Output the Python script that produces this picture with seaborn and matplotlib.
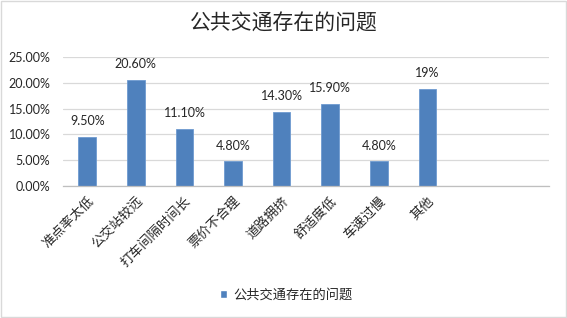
import pandas as pd
import matplotlib.pyplot as plt
import seaborn as sns
from matplotlib.patches import Patch, Rectangle
from matplotlib.ticker import FuncFormatter

# Chart data
categories = ['准点率太低', '公交站较远', '打车间隔时间长', '票价不合理',
              '道路拥挤', '舒适度低', '车速过慢', '其他']
values = [9.5, 20.6, 11.1, 4.8, 14.3, 15.9, 4.8, 18.8]
value_labels = ['9.50%', '20.60%', '11.10%', '4.80%', '14.30%', '15.90%', '4.80%', '19%']
series_name = '公共交通存在的问题'
n_slots = 10  # two empty category slots at the end

df = pd.DataFrame({'问题': categories, '比例': values})

sns.set_style('white')
plt.rcParams['font.family'] = ['Noto Sans CJK SC', 'DejaVu Sans']

bar_color = '#4F81BD'

fig = plt.figure(figsize=(5.67, 3.18), dpi=100)
ax = fig.add_axes([0.111, 0.415, 0.857, 0.406])

sns.barplot(data=df, x='问题', y='比例', color=bar_color, saturation=1, width=0.36,
            edgecolor='#6f9bd0', linewidth=0.6, ax=ax)

ax.set_xlim(-0.5, n_slots - 0.5)
ax.set_ylim(0, 25)
ax.set_yticks([0, 5, 10, 15, 20, 25])
ax.yaxis.set_major_formatter(FuncFormatter(lambda v, p: f'{v:.2f}%'))
ax.tick_params(axis='y', length=0, pad=9, labelsize=9)
for t in ax.get_yticklabels():
    t.set_family('Lato')
ax.yaxis.grid(True, color='#d9d9d9', linewidth=0.9)
ax.set_axisbelow(True)

# category labels
ax.set_xticks(range(len(categories)))
ax.set_xticklabels(categories, rotation=45, ha='right', rotation_mode='anchor',
                   fontsize=9.5)
ax.tick_params(axis='x', which='major', length=0, pad=6)
ax.set_xticks([i - 0.5 for i in range(n_slots + 1)], minor=True)
ax.tick_params(axis='x', which='minor', length=4, color='#bfbfbf', width=0.8,
               direction='out')
ax.set_xlabel('')
ax.set_ylabel('')

for side in ['top', 'right', 'left']:
    ax.spines[side].set_visible(False)
ax.spines['bottom'].set_color('#bfbfbf')
ax.spines['bottom'].set_linewidth(0.9)

# data labels
for i, (v, lab) in enumerate(zip(values, value_labels)):
    ax.annotate(lab, (i, v), xytext=(0, 7), textcoords='offset points',
                ha='center', va='bottom', fontsize=9, family='Lato')

fig.suptitle(series_name, x=0.5, y=0.96, fontsize=15)

fig.legend(handles=[Patch(facecolor=bar_color, label=series_name)],
           loc='center', bbox_to_anchor=(0.505, 0.072), frameon=False,
           fontsize=9.5, handlelength=0.5, handleheight=0.5, handletextpad=0.5)

# chart frame
fig.patches.append(Rectangle((0.002, 0.003), 0.996, 0.994, transform=fig.transFigure,
                             fill=False, edgecolor='#d9d9d9', linewidth=1))

fig.savefig('out.png', dpi=100)
